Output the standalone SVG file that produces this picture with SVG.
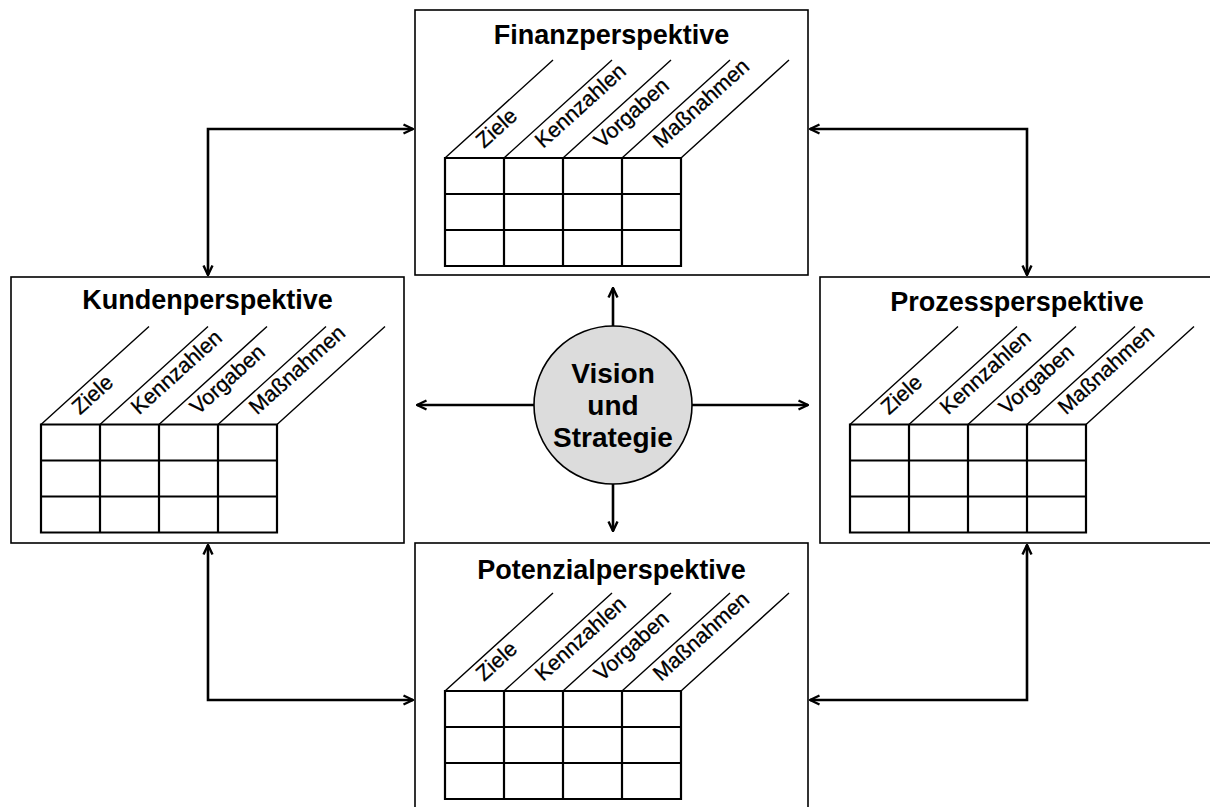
<svg xmlns="http://www.w3.org/2000/svg" width="1210" height="807" viewBox="0 0 1210 807">
<defs>
<style>
.box{fill:#fff;stroke:#000;stroke-width:1.6}
.grid{fill:none;stroke:#000;stroke-width:2.2}
.diag{fill:none;stroke:#000;stroke-width:1.4}
.title{font-family:"Liberation Sans",Arial,sans-serif;font-weight:bold;font-size:27px;text-anchor:middle;fill:#000}
.lbl{font-family:"Liberation Sans",Arial,sans-serif;font-size:21.5px;fill:#000;stroke:#000;stroke-width:0.3}
.conn{fill:none;stroke:#000;stroke-width:2.6}
.ctext{font-family:"Liberation Sans",Arial,sans-serif;font-weight:bold;font-size:28px;text-anchor:middle;fill:#000}
</style>
<marker id="ah" viewBox="0 0 12 12" refX="11" refY="6" markerWidth="12" markerHeight="12" markerUnits="userSpaceOnUse" orient="auto-start-reverse">
<path d="M1.5,1.5 L11,6 L1.5,10.5" fill="none" stroke="#000" stroke-width="2.4"/>
</marker>
</defs>
<rect width="1210" height="807" fill="#fff"/>

<g id="connectors">
<path class="conn" d="M613,326 V288" marker-end="url(#ah)"/>
<path class="conn" d="M613,484 V531" marker-end="url(#ah)"/>
<path class="conn" d="M534,405 H417" marker-end="url(#ah)"/>
<path class="conn" d="M692,405 H808" marker-end="url(#ah)"/>
<path class="conn" d="M413,129 H208 V275" marker-start="url(#ah)" marker-end="url(#ah)"/>
<path class="conn" d="M810,129 H1027 V275" marker-start="url(#ah)" marker-end="url(#ah)"/>
<path class="conn" d="M208,545 V700 H413" marker-start="url(#ah)" marker-end="url(#ah)"/>
<path class="conn" d="M1027,545 V700 H810" marker-start="url(#ah)" marker-end="url(#ah)"/>
</g>

<g id="finanz">
<rect class="box" x="415" y="10" width="393" height="265"/>
<text class="title" x="611.5" y="44">Finanzperspektive</text>
<path class="diag" d="M445,158 l108,-98 M504,158 l108,-98 M563,158 l108,-98 M622,158 l108,-98 M681,158 l108,-98"/>
<text class="lbl" transform="translate(484,149) rotate(-42)">Ziele</text>
<text class="lbl" transform="translate(543,149) rotate(-42)">Kennzahlen</text>
<text class="lbl" transform="translate(602,149) rotate(-42)">Vorgaben</text>
<text class="lbl" transform="translate(661,149) rotate(-42)">Maßnahmen</text>
<path class="grid" d="M445,158 H681 V266 H445 Z M445,194 H681 M445,230 H681 M504,158 V266 M563,158 V266 M622,158 V266"/>
</g>

<g id="kunden">
<rect class="box" x="11" y="277" width="393" height="266"/>
<text class="title" x="207.5" y="309">Kundenperspektive</text>
<path class="diag" d="M41,424.5 l108,-98 M100,424.5 l108,-98 M159,424.5 l108,-98 M218,424.5 l108,-98 M277,424.5 l108,-98"/>
<text class="lbl" transform="translate(80,415.5) rotate(-42)">Ziele</text>
<text class="lbl" transform="translate(139,415.5) rotate(-42)">Kennzahlen</text>
<text class="lbl" transform="translate(198,415.5) rotate(-42)">Vorgaben</text>
<text class="lbl" transform="translate(257,415.5) rotate(-42)">Maßnahmen</text>
<path class="grid" d="M41,424.5 H277 V532.5 H41 Z M41,460.5 H277 M41,496.5 H277 M100,424.5 V532.5 M159,424.5 V532.5 M218,424.5 V532.5"/>
</g>

<g id="prozess">
<rect class="box" x="820" y="277" width="393" height="266"/>
<text class="title" x="1017" y="311">Prozessperspektive</text>
<path class="diag" d="M850,424.5 l108,-98 M909,424.5 l108,-98 M968,424.5 l108,-98 M1027,424.5 l108,-98 M1086,424.5 l108,-98"/>
<text class="lbl" transform="translate(889,415.5) rotate(-42)">Ziele</text>
<text class="lbl" transform="translate(948,415.5) rotate(-42)">Kennzahlen</text>
<text class="lbl" transform="translate(1007,415.5) rotate(-42)">Vorgaben</text>
<text class="lbl" transform="translate(1066,415.5) rotate(-42)">Maßnahmen</text>
<path class="grid" d="M850,424.5 H1086 V532.5 H850 Z M850,460.5 H1086 M850,496.5 H1086 M909,424.5 V532.5 M968,424.5 V532.5 M1027,424.5 V532.5"/>
</g>

<g id="potenzial">
<rect class="box" x="415" y="543" width="393" height="266"/>
<text class="title" x="611.5" y="579">Potenzialperspektive</text>
<path class="diag" d="M445,691 l108,-98 M504,691 l108,-98 M563,691 l108,-98 M622,691 l108,-98 M681,691 l108,-98"/>
<text class="lbl" transform="translate(484,682) rotate(-42)">Ziele</text>
<text class="lbl" transform="translate(543,682) rotate(-42)">Kennzahlen</text>
<text class="lbl" transform="translate(602,682) rotate(-42)">Vorgaben</text>
<text class="lbl" transform="translate(661,682) rotate(-42)">Maßnahmen</text>
<path class="grid" d="M445,691 H681 V799 H445 Z M445,727 H681 M445,763 H681 M504,691 V799 M563,691 V799 M622,691 V799"/>
</g>

<g id="vision">
<circle cx="613" cy="405" r="79" fill="#dcdcdc" stroke="#000" stroke-width="1.6"/>
<text class="ctext" x="613" y="383">Vision</text>
<text class="ctext" x="613" y="415">und</text>
<text class="ctext" x="613" y="447">Strategie</text>
</g>
</svg>
